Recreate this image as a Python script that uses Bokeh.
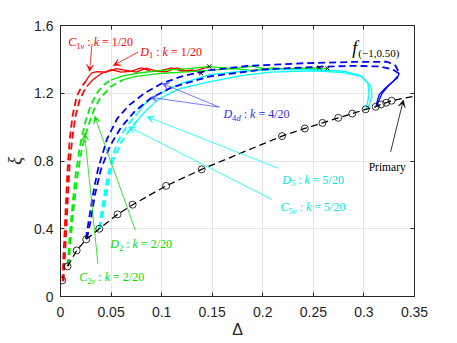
from bokeh.plotting import figure
from bokeh.models import Label, Arrow, VeeHead, LinearAxis, Range1d, FixedTicker, CustomJSTickFormatter
from bokeh.embed import file_html
from bokeh.resources import INLINE

# ---------------- data ----------------
x_ticks = [0, 0.05, 0.1, 0.15, 0.2, 0.25, 0.3, 0.35]
x_tick_labels = ["0", "0.05", "0.1", "0.15", "0.2", "0.25", "0.3", "0.35"]
y_ticks = [0, 0.4, 0.8, 1.2, 1.6]
y_tick_labels = ["0", "0.4", "0.8", "1.2", "1.6"]

# primary branch (circles = computed points)
primary_x = [0.0017, 0.007, 0.016, 0.0254, 0.0383, 0.0564, 0.0713, 0.1044, 0.1396,
             0.219, 0.2416, 0.259, 0.2746, 0.2885, 0.3017, 0.3116, 0.317, 0.322, 0.3274]
primary_y = [0.095, 0.178, 0.272, 0.337, 0.40, 0.485, 0.542, 0.653, 0.751,
             0.947, 0.992, 1.025, 1.055, 1.08, 1.105, 1.12, 1.134, 1.144, 1.156]
primary_line_x = [0.007, 0.016, 0.0254, 0.0383, 0.0564, 0.0713, 0.1044, 0.1396, 0.219,
                  0.2416, 0.259, 0.2746, 0.2885, 0.3017, 0.3116, 0.317, 0.322, 0.3274, 0.35]
primary_line_y = [0.178, 0.272, 0.337, 0.40, 0.485, 0.542, 0.653, 0.751, 0.947,
                  0.992, 1.025, 1.055, 1.08, 1.105, 1.12, 1.134, 1.144, 1.156, 1.183]

# k = 1/20 (red)
c1v_dash_x = [0.002, 0.003, 0.005, 0.007, 0.009, 0.012, 0.016, 0.021, 0.025]
c1v_dash_y = [0.09, 0.25, 0.50, 0.75, 0.92, 1.07, 1.18, 1.24, 1.27]
c1v_solid_x = [0.025, 0.028, 0.031, 0.036, 0.045, 0.055, 0.065, 0.075, 0.085, 0.095, 0.105, 0.115, 0.125, 0.135, 0.147]
c1v_solid_y = [1.27, 1.30, 1.32, 1.327, 1.325, 1.345, 1.335, 1.325, 1.348, 1.33, 1.327, 1.35, 1.33, 1.335, 1.358]
d1_dash_x = [0.003, 0.005, 0.007, 0.009, 0.012, 0.015, 0.019, 0.023, 0.026]
d1_dash_y = [0.09, 0.30, 0.55, 0.78, 0.95, 1.07, 1.16, 1.21, 1.24]
d1_solid_x = [0.026, 0.032, 0.040, 0.050, 0.060, 0.070, 0.080, 0.090, 0.100, 0.110, 0.120, 0.130, 0.139]
d1_solid_y = [1.24, 1.28, 1.315, 1.34, 1.325, 1.33, 1.35, 1.328, 1.335, 1.35, 1.33, 1.338, 1.318]

# k = 2/20 (green)
c2v_dash_x = [0.007, 0.009, 0.012, 0.015, 0.019, 0.024, 0.030, 0.037, 0.044, 0.050]
c2v_dash_y = [0.18, 0.35, 0.55, 0.72, 0.88, 1.02, 1.13, 1.21, 1.255, 1.278]
c2v_solid_x = [0.050, 0.060, 0.075, 0.100, 0.125, 0.148, 0.170, 0.190, 0.205, 0.225, 0.256]
c2v_solid_y = [1.278, 1.30, 1.318, 1.335, 1.345, 1.357, 1.345, 1.36, 1.34, 1.345, 1.35]
d2_dash_x = [0.008, 0.010, 0.013, 0.017, 0.021, 0.027, 0.033, 0.039, 0.050, 0.062]
d2_dash_y = [0.18, 0.33, 0.52, 0.72, 0.87, 1.00, 1.10, 1.17, 1.24, 1.28]
d2_solid_x = [0.062, 0.075, 0.095, 0.120, 0.148, 0.170, 0.190, 0.210, 0.230, 0.264]
d2_solid_y = [1.28, 1.30, 1.315, 1.325, 1.335, 1.345, 1.335, 1.35, 1.34, 1.347]

# k = 4/20 (blue)
c4_dash_x = [0.025, 0.028, 0.032, 0.037, 0.046, 0.056, 0.068, 0.083, 0.100, 0.120, 0.148, 0.185,
             0.240, 0.290, 0.323, 0.331, 0.335]
c4_dash_y = [0.34, 0.45, 0.60, 0.75, 0.93, 1.05, 1.13, 1.20, 1.258, 1.30, 1.337, 1.361,
             1.377, 1.385, 1.386, 1.365, 1.32]
c4_solid_x = [0.335, 0.333, 0.325, 0.318, 0.315, 0.312]
c4_solid_y = [1.32, 1.29, 1.25, 1.20, 1.16, 1.12]
d4_dash_x = [0.026, 0.030, 0.034, 0.040, 0.049, 0.060, 0.073, 0.089, 0.110, 0.148, 0.200,
             0.250, 0.290, 0.315, 0.328, 0.334, 0.333]
d4_dash_y = [0.34, 0.45, 0.60, 0.75, 0.89, 1.00, 1.09, 1.17, 1.235, 1.30, 1.34,
             1.355, 1.362, 1.358, 1.342, 1.32, 1.30]
d4_solid_x = [0.333, 0.329, 0.321, 0.315, 0.313, 0.312]
d4_solid_y = [1.30, 1.27, 1.23, 1.19, 1.15, 1.12]

# k = 5/20 (cyan)
c5v_dash_x = [0.038, 0.041, 0.045, 0.050, 0.057, 0.066, 0.076]
c5v_dash_y = [0.40, 0.52, 0.66, 0.80, 0.92, 1.01, 1.08]
c5v_solid_x = [0.076, 0.082, 0.095, 0.120, 0.148, 0.180, 0.210, 0.250, 0.280, 0.296, 0.304, 0.305, 0.303, 0.302]
c5v_solid_y = [1.08, 1.13, 1.19, 1.26, 1.31, 1.33, 1.34, 1.34, 1.33, 1.305, 1.26, 1.19, 1.13, 1.105]
d5_dash_x = [0.039, 0.043, 0.047, 0.052, 0.060, 0.068, 0.076]
d5_dash_y = [0.40, 0.52, 0.66, 0.80, 0.91, 0.98, 1.04]
d5_solid_x = [0.076, 0.085, 0.095, 0.105, 0.119, 0.148, 0.180, 0.208, 0.250, 0.280, 0.298, 0.307, 0.308, 0.305, 0.302]
d5_solid_y = [1.04, 1.10, 1.155, 1.19, 1.229, 1.268, 1.305, 1.325, 1.332, 1.322, 1.298, 1.24, 1.18, 1.13, 1.105]

# end points (x markers)
end_x = [0.147, 0.139, 0.256, 0.264]
end_y = [1.358, 1.318, 1.35, 1.347]

# ---------------- figure ----------------
AX = "#262626"
p = figure(width=452, height=343, x_range=Range1d(0, 0.35), y_range=Range1d(0, 1.6),
           output_backend="svg", toolbar_location=None,
           min_border_left=60, min_border_right=38, min_border_top=25, min_border_bottom=47)
p.background_fill_color = "white"
p.outline_line_color = AX
p.outline_line_width = 1

for ax in (p.xaxis[0], p.yaxis[0]):
    ax.major_tick_in = 4
    ax.major_tick_out = 0
    ax.minor_tick_line_color = None
    ax.axis_line_color = AX
    ax.major_tick_line_color = AX
    ax.major_label_text_font = "Liberation Sans"
    ax.major_label_text_font_size = "14px"
    ax.major_label_text_color = AX

p.xaxis.ticker = FixedTicker(ticks=x_ticks)
p.yaxis.ticker = FixedTicker(ticks=y_ticks)
p.xaxis.major_label_overrides = dict(zip(x_ticks, x_tick_labels))
p.yaxis.major_label_overrides = dict(zip(y_ticks, y_tick_labels))
p.xaxis.major_label_standoff = 10
p.yaxis.major_label_standoff = 7

p.xaxis.axis_label = "Δ"
p.xaxis.axis_label_text_font = "Liberation Sans"
p.xaxis.axis_label_text_font_style = "normal"
p.xaxis.axis_label_text_font_size = "16px"
p.xaxis.axis_label_text_color = AX
p.xaxis.axis_label_standoff = 1
p.yaxis.axis_label = "ξ"
p.yaxis.axis_label_text_font = "Liberation Serif"
p.yaxis.axis_label_text_font_style = "italic"
p.yaxis.axis_label_text_font_size = "19px"
p.yaxis.axis_label_text_color = AX
p.yaxis.axis_label_standoff = 6

blank = CustomJSTickFormatter(code="return ''")
for loc, tick in (("right", y_ticks), ("above", x_ticks)):
    a = LinearAxis(ticker=FixedTicker(ticks=tick), formatter=blank,
                   major_tick_in=4, major_tick_out=0, major_label_standoff=0,
                   minor_tick_line_color=None, axis_line_color=AX, major_tick_line_color=AX,
                   major_label_text_font_size="1px")
    p.add_layout(a, loc)

p.grid.grid_line_color = "#e4e4e4"
p.grid.grid_line_width = 1

DASH = "7 4"
series = [
    ("red", c1v_dash_x, c1v_dash_y, c1v_solid_x, c1v_solid_y),
    ("red", d1_dash_x, d1_dash_y, d1_solid_x, d1_solid_y),
    ("#00ee00", c2v_dash_x, c2v_dash_y, c2v_solid_x, c2v_solid_y),
    ("#00ee00", d2_dash_x, d2_dash_y, d2_solid_x, d2_solid_y),
    ("cyan", c5v_dash_x, c5v_dash_y, c5v_solid_x, c5v_solid_y),
    ("cyan", d5_dash_x, d5_dash_y, d5_solid_x, d5_solid_y),
    ("blue", c4_dash_x, c4_dash_y, c4_solid_x, c4_solid_y),
    ("blue", d4_dash_x, d4_dash_y, d4_solid_x, d4_solid_y),
]
for col, dx, dy, sx, sy in series:
    p.line(dx, dy, line_color=col, line_width=1.8, line_dash=DASH)
    p.line(sx, sy, line_color=col, line_width=1.3)

p.line(primary_line_x, primary_line_y, line_color="black", line_width=1.3, line_dash="7 4")
p.scatter(primary_x, primary_y, marker="circle", size=7, fill_color=None,
          line_color="black", line_width=0.8)
p.scatter(end_x, end_y, marker="x", size=6, line_color="black", line_width=1)

# ---------------- annotations ----------------
W_RM = {'0': 500, '1': 500, '2': 500, '4': 500, '5': 500, '/': 278, ':': 278, '=': 564, ' ': 250,
        '(': 333, ')': 333, ',': 250, '.': 250, '−': 564, 'P': 556, 'r': 333, 'i': 278, 'm': 778,
        'a': 444, 'y': 500}
W_IT = {'C': 667, 'D': 722, 'k': 444, 'f': 278, 'v': 444, 'd': 500}


def width(s, size, italic):
    tab = W_IT if italic else W_RM
    return sum(tab.get(c, W_RM.get(c, 500)) for c in s) * size / 1000.0


def put(x, y, off, txt, fs, italic, color, dy):
    p.add_layout(Label(x=x, y=y, x_offset=off, y_offset=dy, text=txt,
                       text_font="Liberation Serif",
                       text_font_style="italic" if italic else "normal",
                       text_font_size=f"{fs:.1f}px", text_color=color,
                       text_baseline="alphabetic", text_align="left"))


def rich(x, y, segs, color, size=12):
    off = 0.0
    for txt, kind in segs:
        sub = kind.startswith("sub")
        italic = kind.endswith("it")
        fs = size * 0.72 if sub else size
        dy = -3.5 if sub else 0
        run = ""
        for ch in txt + " ":
            if ch == " ":
                if run:
                    put(x, y, off, run, fs, italic, color, dy)
                    off += width(run, fs, italic)
                    run = ""
                if len(run) == 0 and ch == " ":
                    off += width(" ", fs, False)
            else:
                run += ch
        off -= width(" ", fs, False)


def arrow(x0, y0, x1, y1, color):
    p.add_layout(Arrow(x_start=x0, y_start=y0, x_end=x1, y_end=y1, line_color=color, line_width=0.8,
                       end=VeeHead(size=7, fill_color=color, line_color=color, line_width=0.5)))


def klabel(x, y, letter, sub, rest, color):
    segs = [(letter, "it")] + list(sub)
    segs += [(" : ", "rm"), ("k", "it"), (" = " + rest, "rm")]
    rich(x, y, segs, color)


klabel(0.0076, 1.501, "C", [("1", "subrm"), ("v", "subit")], "1/20", "red")
arrow(0.0311, 1.49, 0.0287, 1.328, "red")
klabel(0.0789, 1.444, "D", [("1", "subrm")], "1/20", "red")
arrow(0.0769, 1.444, 0.0522, 1.363, "red")

klabel(0.0492, 0.308, "D", [("2", "subrm")], "2/20", "#00dd00")
arrow(0.074, 0.391, 0.0337, 1.065, "#00dd00")
klabel(0.0185, 0.114, "C", [("2", "subrm"), ("v", "subit")], "2/20", "#00dd00")
arrow(0.037, 0.193, 0.0238, 0.963, "#00dd00")

klabel(0.1611, 1.077, "D", [("4", "subrm"), ("d", "subit")], "4/20", "#2a2aff")
arrow(0.157, 1.118, 0.1004, 1.258, "#5555ff")
arrow(0.157, 1.118, 0.0888, 1.176, "#5555ff")

klabel(0.2192, 0.688, "D", [("5", "subrm")], "5/20", "#00e5e5")
arrow(0.2155, 0.757, 0.0855, 1.061, "cyan")
klabel(0.2175, 0.528, "C", [("5", "subrm"), ("v", "subit")], "5/20", "#00e5e5")
arrow(0.2093, 0.572, 0.0673, 1.002, "cyan")

rich(0.3047, 0.763, [("Primary", "rm")], "black", size=11.5)
arrow(0.3264, 0.854, 0.339, 1.160, "black")

put(0.2885, 1.469, 0, "f", 18, True, "black", 0)
put(0.2885, 1.469, 6, "(−1,0.50)", 11, False, "black", -5)

open("out.html", "w").write(file_html(p, INLINE))
